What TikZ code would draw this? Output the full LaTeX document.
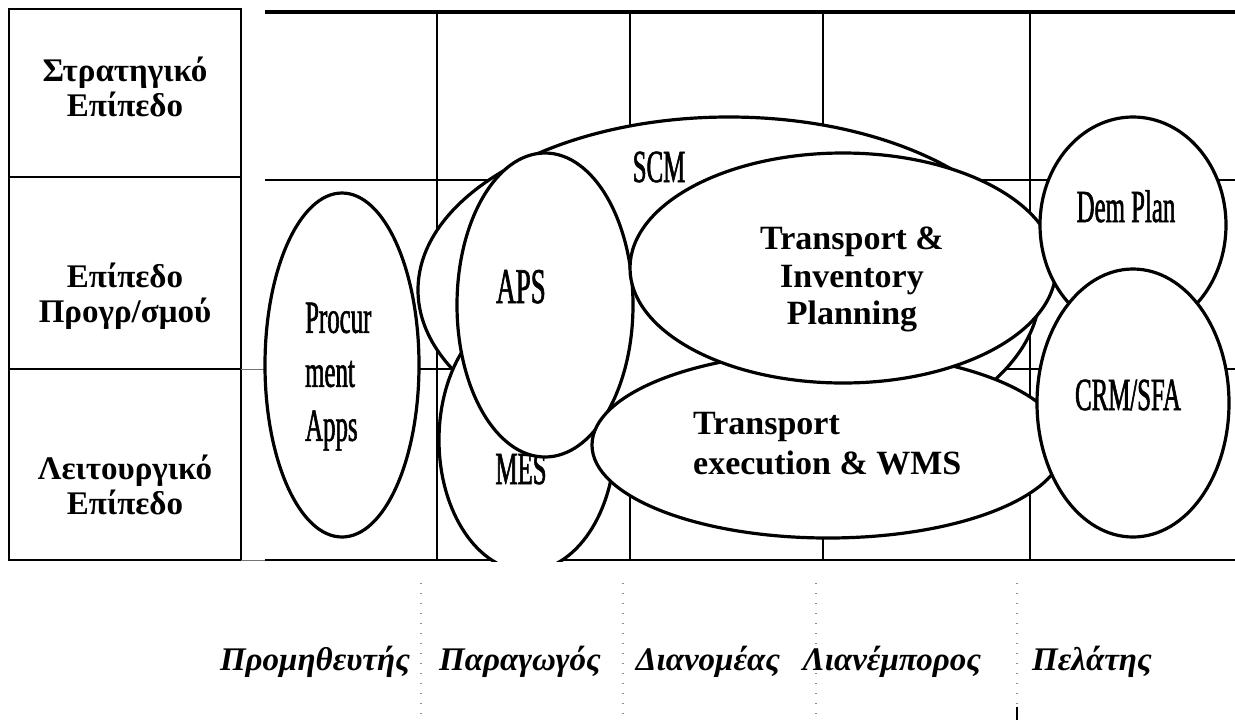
\documentclass[tikz,border=0pt]{standalone}
\usepackage{fontspec}
\setmainfont{Liberation Serif}
\newfontfamily\condfont[FakeStretch=0.54,FakeBold=1.2]{Liberation Serif}
\usetikzlibrary{shapes.geometric}

\tikzset{
  tbl/.style={line width=2.8pt},
  joinline/.style={line width=1pt, black!55},
  frame/.style={line width=4pt},
  gridh/.style={line width=2.8pt},
  gridv/.style={line width=2pt},
  dots/.style={line width=1.6pt, black!45, dash pattern=on 1.4pt off 8.6pt},
  blob/.style={ellipse, draw, line width=3.2pt, fill=white, inner sep=0pt},
  level/.style={font=\bfseries\fontsize{33}{35}\selectfont, align=center, inner sep=0pt},
  actor/.style={font=\bfseries\itshape\fontsize{33}{38}\selectfont, inner sep=0pt, anchor=base},
  cond/.style={font=\condfont\fontsize{46}{54}\selectfont, inner sep=0pt},
  heavy/.style={font=\bfseries\fontsize{34}{37.5}\selectfont, inner sep=0pt}
}

\begin{document}
\begin{tikzpicture}[x=1pt,y=-1pt]
\useasboundingbox[fill=white] (0,0) rectangle (1235,724);

% management levels
\draw[tbl] (9,9) rectangle (241,560);
\draw[tbl] (9,177) -- (241,177);
\draw[tbl] (9,369) -- (241,369);
\node[level, anchor=north] (strat) at (125,57) {Στρατηγικό\\Επίπεδο};
\node[level, anchor=north] (plan) at (125,263) {Επίπεδο\\Προγρ/σμού};
\node[level, anchor=north] (oper) at (125,455) {Λειτουργικό\\Επίπεδο};

% grid of the chain
\draw[joinline] (241,369) -- (265,369);
\draw[joinline] (241,560) -- (265,560);
\draw[frame] (265,12) -- (1235,12);
\draw[gridh] (265,180) -- (1235,180);
\draw[gridh] (265,369) -- (1235,369);
\draw[gridh] (265,560) -- (1235,560);
\foreach \x in {437,630,823,1030} \draw[gridv] (\x,12) -- (\x,560);

% members of the chain
\foreach \x in {421,623,816,1017} \draw[dots] (\x,583) -- (\x,720);
\draw[line width=1.6pt] (1017,707) -- (1017,720);
\node[actor] (sup) at (315,670) {Προμηθευτής};
\node[actor] (man) at (520,670) {Παραγωγός};
\node[actor] (dis) at (708,670) {Διανομέας};
\node[actor] (ret) at (892,670) {Λιανέμπορος};
\node[actor] (cus) at (1092,670) {Πελάτης};

% application areas
\node[blob, minimum width=154pt, minimum height=344pt] (proc) at (342,365) {};
\node[cond, anchor=north west, align=left] (proct) at (305,302.5) {Procur\\ment\\Apps};

\node[blob, minimum width=622pt, minimum height=346pt] (scm) at (729,290) {};
\node[cond, anchor=base] (scmt) at (659,182) {SCM};

\begin{scope}
  \clip (0,0) rectangle (1235,561);
  \node[blob, minimum width=176pt, minimum height=262pt] (mes) at (527,440) {};
  \node[cond, anchor=base, font=\condfont\fontsize{46}{54}\selectfont] (mest) at (521,484) {MES};
\end{scope}

\node[blob, minimum width=176pt, minimum height=304pt] (aps) at (545,305) {};
\node[cond, anchor=base, font=\condfont\fontsize{50}{56}\selectfont] (apst) at (521,303) {APS};

\node[blob, minimum width=472pt, minimum height=186pt] (tew) at (828,445) {};
\node[heavy, anchor=north west, align=left, font=\bfseries\fontsize{34}{40}\selectfont] (tewt) at (693,412) {Transport\\execution \& WMS};

\node[blob, minimum width=426pt, minimum height=230pt] (tip) at (843,268) {};
\node[heavy, anchor=north, align=center] (tipt) at (852,227) {Transport \&\\Inventory\\Planning};

\node[blob, minimum width=186pt, minimum height=216pt] (dem) at (1133,225) {};
\node[cond, anchor=base] (demt) at (1126,222) {Dem Plan};

\node[blob, minimum width=192pt, minimum height=268pt] (crm) at (1133,403) {};
\node[cond, anchor=base] (crmt) at (1128,410) {CRM/SFA};
\end{tikzpicture}
\end{document}
